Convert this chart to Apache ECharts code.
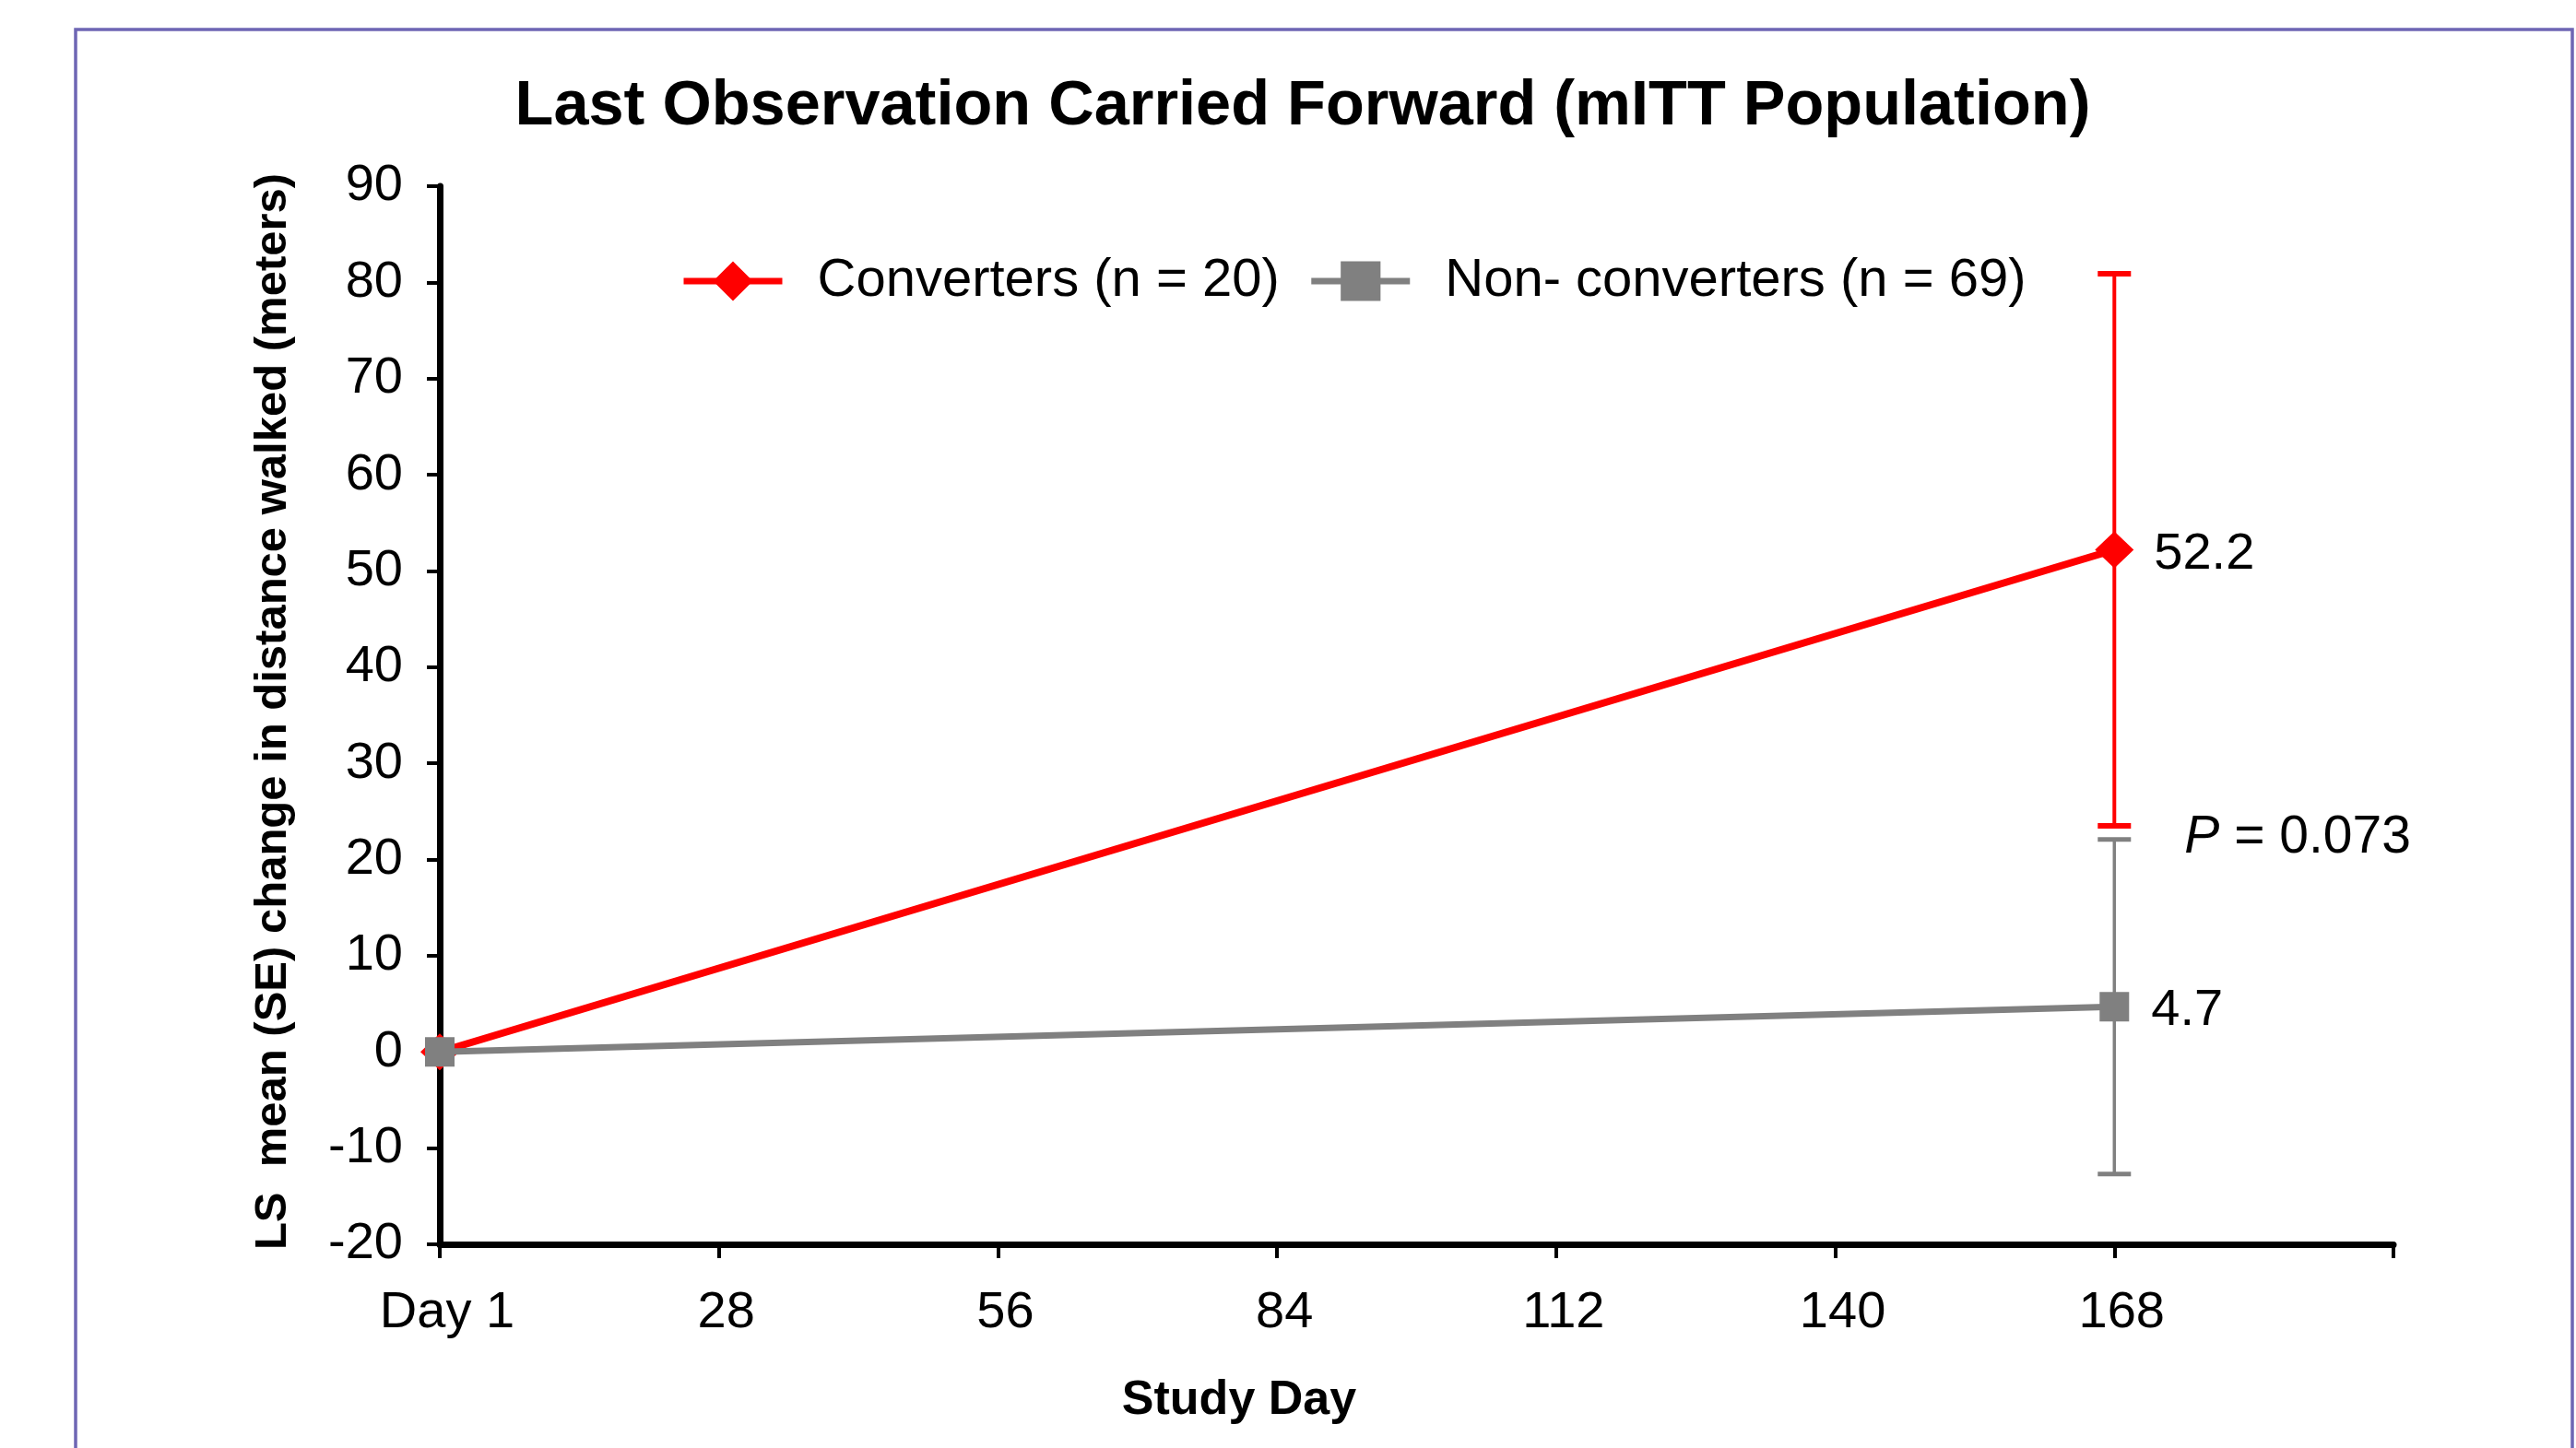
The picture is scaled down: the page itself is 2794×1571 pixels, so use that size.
<!DOCTYPE html>
<html>
<head>
<meta charset="utf-8">
<title>Last Observation Carried Forward (mITT Population)</title>
<script src="https://cdn.jsdelivr.net/npm/echarts@6/dist/echarts.min.js"></script>
<style>
  html, body { margin: 0; padding: 0; background: #ffffff; }
  #chart { width: 2794px; height: 1571px; }
</style>
</head>
<body>
<div id="chart"></div>
<script>
// ---- data ----
const studyDays = [0, 168];
const xTickLabels = ['Day 1', '28', '56', '84', '112', '140', '168', ''];
const yTicks = [-20, 90, 10];          // min, max, step
const converters = [0, 52.2];
const convertersSE = [null, 28.7];
const nonConverters = [0, 4.7];
const nonConvertersSE = [null, 17.4];
const seriesNames = ['Converters (n = 20)', 'Non- converters (n = 69)'];
const pValue = '0.073';

// ---- styling ----
const FONT = "'Liberation Sans', Arial, Helvetica, sans-serif";
const RED = '#ff0000';
const GREY = '#808080';
const last = studyDays.length - 1;

function lineData(values) {
  return studyDays.map((d, i) => ({
    value: [d, values[i]],
    label: { show: i === last }
  }));
}

function errData(values, se) {
  const out = [];
  studyDays.forEach((d, i) => {
    if (se[i] != null) out.push([d, values[i] - se[i], values[i] + se[i]]);
  });
  return out;
}

function errorBarSeries(name, values, se, color, width, capWidth) {
  return {
    type: 'custom',
    name: name + ' SE',
    data: errData(values, se),
    z: 2,
    silent: true,
    renderItem(params, api) {
      const x = api.value(0);
      const lo = api.coord([x, api.value(1)]);
      const hi = api.coord([x, api.value(2)]);
      const half = 18;
      return {
        type: 'group',
        children: [
          { type: 'line', shape: { x1: hi[0], y1: hi[1], x2: lo[0], y2: lo[1] },
            style: { stroke: color, lineWidth: width } },
          { type: 'line', shape: { x1: hi[0] - half, y1: hi[1], x2: hi[0] + half, y2: hi[1] },
            style: { stroke: color, lineWidth: capWidth } },
          { type: 'line', shape: { x1: lo[0] - half, y1: lo[1], x2: lo[0] + half, y2: lo[1] },
            style: { stroke: color, lineWidth: capWidth } }
        ]
      };
    }
  };
}

// annotation sits between the two facing error-bar caps
const pAnchor = ((converters[last] - convertersSE[last]) + (nonConverters[last] + nonConvertersSE[last])) / 2;

const chart = echarts.init(document.getElementById('chart'), null, { renderer: 'canvas' });

const option = {
  animation: false,
  backgroundColor: '#ffffff',
  textStyle: { fontFamily: FONT, color: '#000' },
  grid: { left: 477, right: 198, top: 202, bottom: 221, containLabel: false },
  legend: {
    data: seriesNames,
    left: 733,
    top: 271,
    itemWidth: 107,
    itemHeight: 54,
    itemGap: 31,
    selectedMode: false,
    lineStyle: { width: 7 },
    textStyle: { fontFamily: FONT, fontSize: 58, color: '#000', padding: [0, 0, 0, 33] }
  },
  xAxis: {
    type: 'value',
    min: 0,
    max: 196,
    interval: 28,
    axisLine: { onZero: false, lineStyle: { color: '#000', width: 7 } },
    axisTick: { show: true, length: 15, lineStyle: { color: '#000', width: 4 } },
    splitLine: { show: false },
    axisLabel: {
      margin: 47,
      padding: [0, 0, 0, 16],
      fontFamily: FONT, fontSize: 56, color: '#000',
      formatter: v => xTickLabels[Math.round(v / 28)] ?? ''
    }
  },
  yAxis: {
    type: 'value',
    min: yTicks[0],
    max: yTicks[1],
    interval: yTicks[2],
    axisLine: { show: true, onZero: false, lineStyle: { color: '#000', width: 7 } },
    axisTick: { show: true, length: 14, lineStyle: { color: '#000', width: 4 } },
    splitLine: { show: false },
    axisLabel: { margin: 40, padding: [9, 0, 0, 0], fontFamily: FONT, fontSize: 56, color: '#000' }
  },
  graphic: [
    { type: 'rect', z: -10, silent: true,
      shape: { x: 82, y: 32, width: 2708, height: 1600 },
      style: { fill: 'none', stroke: '#6e66b4', lineWidth: 3.5 } },
    { type: 'text', x: 1413, y: 116, silent: true,
      style: { text: 'Last Observation Carried Forward (mITT Population)',
               font: 'bold 68.5px ' + FONT, fill: '#000', align: 'center', verticalAlign: 'middle' } },
    { type: 'text', x: 296, y: 772, rotation: Math.PI / 2, silent: true,
      style: { text: 'LS  mean (SE) change in distance walked (meters)',
               font: 'bold 49px ' + FONT, fill: '#000', align: 'center', verticalAlign: 'middle' } },
    { type: 'text', x: 1344, y: 1520, silent: true,
      style: { text: 'Study Day', font: 'bold 52px ' + FONT, fill: '#000',
               align: 'center', verticalAlign: 'middle' } }
  ],
  series: [
    errorBarSeries(seriesNames[0], converters, convertersSE, RED, 4, 6),
    errorBarSeries(seriesNames[1], nonConverters, nonConvertersSE, GREY, 3.5, 5),
    {
      type: 'line',
      name: seriesNames[0],
      data: lineData(converters),
      z: 3,
      symbol: 'diamond',
      symbolSize: [42, 40],
      lineStyle: { color: RED, width: 8 },
      itemStyle: { color: RED },
      label: {
        position: 'right', distance: 22, offset: [0, 5],
        fontFamily: FONT, fontSize: 56, color: '#000',
        formatter: p => p.value[1].toFixed(1)
      }
    },
    {
      type: 'line',
      name: seriesNames[1],
      data: lineData(nonConverters),
      z: 4,
      symbol: 'rect',
      symbolSize: 32,
      lineStyle: { color: GREY, width: 7 },
      itemStyle: { color: GREY },
      label: {
        position: 'right', distance: 24, offset: [0, 4],
        fontFamily: FONT, fontSize: 56, color: '#000',
        formatter: p => p.value[1].toFixed(1)
      }
    },
    {
      // P-value annotation beside the day-168 error bars
      type: 'custom',
      name: 'P value',
      data: [[studyDays[last], pAnchor]],
      silent: true,
      z: 5,
      renderItem(params, api) {
        const pt = api.coord([api.value(0), api.value(1)]);
        return {
          type: 'text',
          x: pt[0] + 76,
          y: pt[1] + 6,
          style: {
            text: '{i|P}{n| = ' + pValue + '}',
            fill: '#000',
            verticalAlign: 'middle',
            align: 'left',
            rich: {
              i: { fontFamily: FONT, fontSize: 57, fontStyle: 'italic', fill: '#000' },
              n: { fontFamily: FONT, fontSize: 57, fill: '#000' }
            }
          }
        };
      }
    }
  ]
};

chart.setOption(option);
</script>
</body>
</html>
